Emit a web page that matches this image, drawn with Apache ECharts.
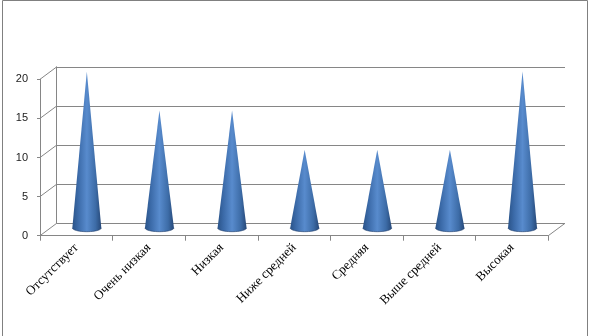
<!DOCTYPE html>
<html>
<head>
<meta charset="utf-8">
<script src="https://cdn.jsdelivr.net/npm/echarts@6/dist/echarts.min.js"></script>
<style>
html,body{margin:0;padding:0;background:#fff;}
#c{width:590px;height:336px;}
</style>
</head>
<body>
<div id="c"></div>
<script>
const categories = ['Отсутствует','Очень низкая','Низкая','Ниже средней','Средняя','Выше средней','Высокая'];
const values = [20, 15, 15, 10, 10, 10, 20];
const yTicks = [0, 5, 10, 15, 20];

const DX = 16.7, DY = -12.4;   // depth offset of the back wall
const CR = 0.63;               // cone plane position in depth
const LINE = '#868686';

const front = {left: 40, right: 41.7, top: 79.3, bottom: 100.3};
const back = {left: front.left + DX, right: front.right - DX, top: front.top + DY, bottom: front.bottom - DY};
const cone = {left: front.left + DX*CR, right: front.right - DX*CR, top: front.top + DY*CR, bottom: front.bottom - DY*CR};

const chart = echarts.init(document.getElementById('c'), null, {renderer: 'canvas'});

const coneFill = {
  type: 'linear', x: 0, y: 0, x2: 1, y2: 0,
  colorStops: [
    {offset: 0, color: '#2a5388'},
    {offset: 0.2, color: '#3b6aa8'},
    {offset: 0.5, color: '#588bcd'},
    {offset: 0.8, color: '#3d6ca7'},
    {offset: 1, color: '#264878'}
  ]
};

chart.setOption({
  animation: false,
  graphic: [{
    type: 'rect', silent: true,
    shape: {x: 2.5, y: 0.5, width: 585, height: 345},
    style: {fill: 'none', stroke: '#808080', lineWidth: 1}
  }],
  grid: [
    Object.assign({containLabel: false}, front),
    Object.assign({containLabel: false}, back),
    Object.assign({containLabel: false}, cone)
  ],
  xAxis: [
    {
      gridIndex: 0, type: 'category', data: categories, boundaryGap: true,
      axisLine: {show: true, lineStyle: {color: LINE, width: 1}},
      axisTick: {show: true, length: 5, interval: 0, lineStyle: {color: LINE}},
      axisLabel: {interval: 0, rotate: 45, margin: 10, color: '#000', fontSize: 13, fontFamily: 'Liberation Serif'},
      splitLine: {show: false}
    },
    {gridIndex: 1, type: 'category', data: categories, show: false},
    {gridIndex: 2, type: 'category', data: categories, show: false}
  ],
  yAxis: [
    {
      gridIndex: 0, type: 'value', min: 0, max: 20, interval: 5,
      axisLine: {show: true, lineStyle: {color: LINE, width: 1}},
      axisTick: {show: true, length: 3, lineStyle: {color: LINE}},
      axisLabel: {color: '#222', fontSize: 11, margin: 12, fontFamily: 'Liberation Sans', padding: [3, 0, 0, 0]},
      splitLine: {show: false}
    },
    {
      gridIndex: 1, type: 'value', min: 0, max: 20, interval: 5,
      axisLine: {show: true, lineStyle: {color: LINE, width: 1}},
      axisTick: {show: false}, axisLabel: {show: false},
      splitLine: {show: true, lineStyle: {color: LINE, width: 1}}
    },
    {gridIndex: 2, type: 'value', min: 0, max: 20, interval: 5, show: false, splitLine: {show: false}}
  ],
  series: [
    {
      type: 'custom', xAxisIndex: 0, yAxisIndex: 0, silent: true,
      data: yTicks.map(v => [0, v]),
      renderItem: function (params, api) {
        const cs = params.coordSys;
        const y = api.coord([0, api.value(1)])[1];
        const children = [{
          type: 'line',
          shape: {x1: cs.x, y1: y, x2: cs.x + DX, y2: y + DY},
          style: {stroke: LINE, lineWidth: 1}
        }];
        if (api.value(1) === 0) {
          children.push({
            type: 'line',
            shape: {x1: cs.x + cs.width, y1: y, x2: cs.x + cs.width + DX, y2: y + DY},
            style: {stroke: LINE, lineWidth: 1}
          });
        }
        return {type: 'group', children: children};
      }
    },
    {
      type: 'custom', xAxisIndex: 2, yAxisIndex: 2, silent: true,
      data: values.map((v, i) => [i, v]),
      renderItem: function (params, api) {
        const b = api.coord([api.value(0), 0]);
        const t = api.coord([api.value(0), api.value(1)]);
        const r = 14.5, ry = 3.8, N = 24;
        const pts = [[b[0] - r, b[1]], [t[0], t[1]], [b[0] + r, b[1]]];
        const rim = [];
        for (let k = 0; k <= N; k++) {
          const a = k / N * Math.PI;
          const p = [b[0] + r * Math.cos(a), b[1] + ry * Math.sin(a)];
          if (k > 0 && k < N) pts.push(p);
          rim.push(p);
        }
        return {
          type: 'group',
          children: [
            {type: 'polygon', shape: {points: pts}, style: {fill: coneFill}},
            {type: 'polyline', shape: {points: rim}, style: {fill: 'none', stroke: 'rgba(30,60,105,0.6)', lineWidth: 1}}
          ]
        };
      }
    }
  ]
});
</script>
</body>
</html>
